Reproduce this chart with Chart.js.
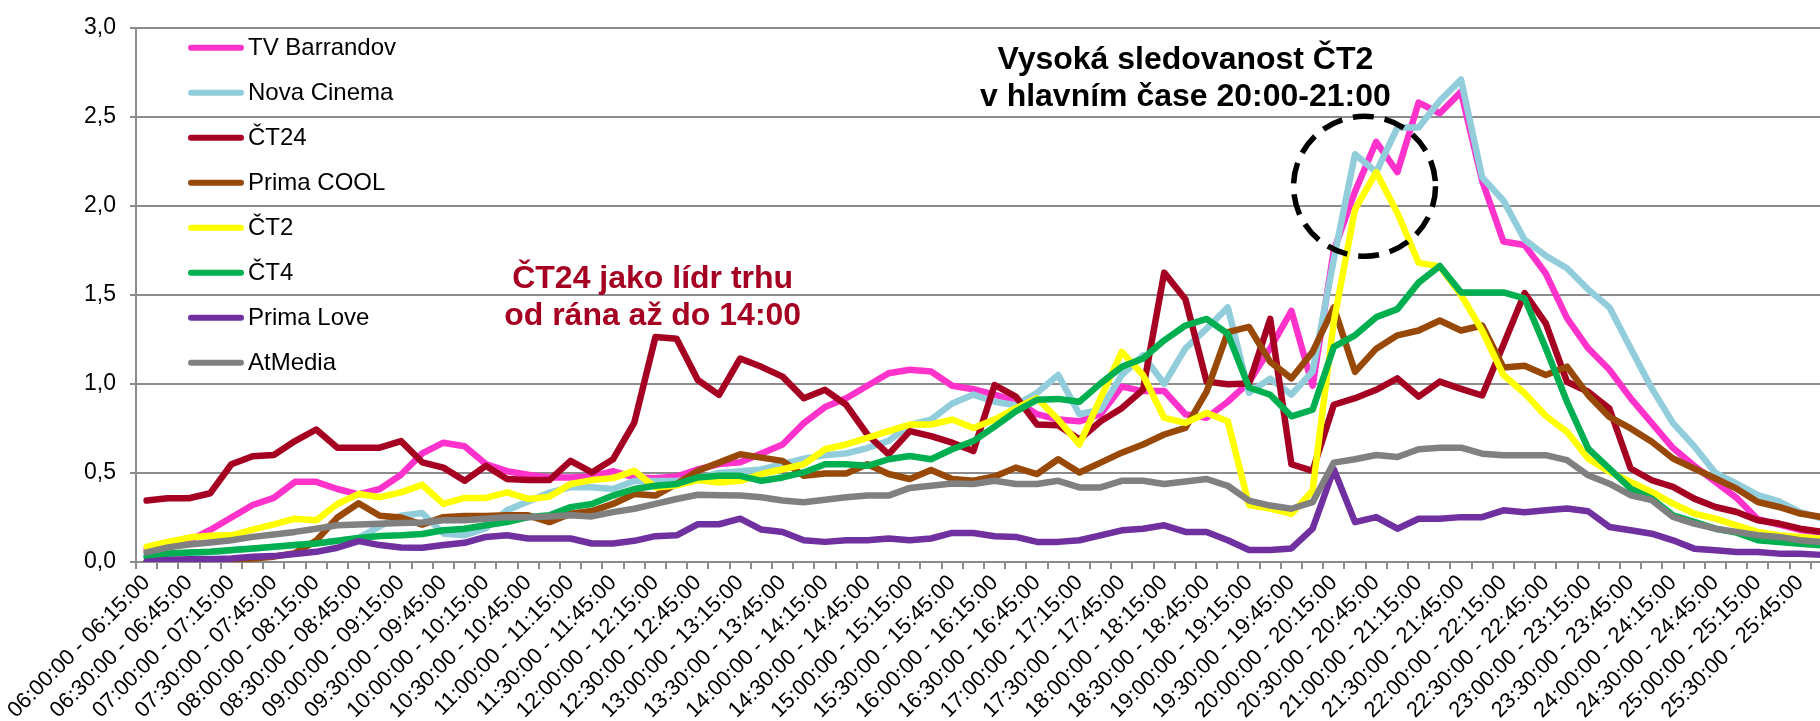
<!DOCTYPE html>
<html>
<head>
<meta charset="utf-8">
<script src="https://cdn.jsdelivr.net/npm/chart.js@4.4.1/dist/chart.umd.min.js"></script>
<style>
  html, body { margin: 0; padding: 0; background: #fff; overflow: hidden; width: 1820px; height: 721px; }
  #wrap { position: absolute; left: 0; top: 0; width: 1832px; height: 721px; }
</style>
</head>
<body>
<div id="wrap"><canvas id="c" width="1832" height="721"></canvas></div>
<script>
const categories = [
"06:00:00 - 06:15:00","06:15:00 - 06:30:00","06:30:00 - 06:45:00","06:45:00 - 07:00:00",
"07:00:00 - 07:15:00","07:15:00 - 07:30:00","07:30:00 - 07:45:00","07:45:00 - 08:00:00",
"08:00:00 - 08:15:00","08:15:00 - 08:30:00","08:30:00 - 08:45:00","08:45:00 - 09:00:00",
"09:00:00 - 09:15:00","09:15:00 - 09:30:00","09:30:00 - 09:45:00","09:45:00 - 10:00:00",
"10:00:00 - 10:15:00","10:15:00 - 10:30:00","10:30:00 - 10:45:00","10:45:00 - 11:00:00",
"11:00:00 - 11:15:00","11:15:00 - 11:30:00","11:30:00 - 11:45:00","11:45:00 - 12:00:00",
"12:00:00 - 12:15:00","12:15:00 - 12:30:00","12:30:00 - 12:45:00","12:45:00 - 13:00:00",
"13:00:00 - 13:15:00","13:15:00 - 13:30:00","13:30:00 - 13:45:00","13:45:00 - 14:00:00",
"14:00:00 - 14:15:00","14:15:00 - 14:30:00","14:30:00 - 14:45:00","14:45:00 - 15:00:00",
"15:00:00 - 15:15:00","15:15:00 - 15:30:00","15:30:00 - 15:45:00","15:45:00 - 16:00:00",
"16:00:00 - 16:15:00","16:15:00 - 16:30:00","16:30:00 - 16:45:00","16:45:00 - 17:00:00",
"17:00:00 - 17:15:00","17:15:00 - 17:30:00","17:30:00 - 17:45:00","17:45:00 - 18:00:00",
"18:00:00 - 18:15:00","18:15:00 - 18:30:00","18:30:00 - 18:45:00","18:45:00 - 19:00:00",
"19:00:00 - 19:15:00","19:15:00 - 19:30:00","19:30:00 - 19:45:00","19:45:00 - 20:00:00",
"20:00:00 - 20:15:00","20:15:00 - 20:30:00","20:30:00 - 20:45:00","20:45:00 - 21:00:00",
"21:00:00 - 21:15:00","21:15:00 - 21:30:00","21:30:00 - 21:45:00","21:45:00 - 22:00:00",
"22:00:00 - 22:15:00","22:15:00 - 22:30:00","22:30:00 - 22:45:00","22:45:00 - 23:00:00",
"23:00:00 - 23:15:00","23:15:00 - 23:30:00","23:30:00 - 23:45:00","23:45:00 - 24:00:00",
"24:00:00 - 24:15:00","24:15:00 - 24:30:00","24:30:00 - 24:45:00","24:45:00 - 25:00:00",
"25:00:00 - 25:15:00","25:15:00 - 25:30:00","25:30:00 - 25:45:00","25:45:00 - 26:00:00"
];

const seriesNames = ["TV Barrandov", "Nova Cinema", "ČT24", "Prima COOL", "ČT2", "ČT4", "Prima Love", "AtMedia"];

const tvBarrandov = [
0.07,0.09,0.12,0.18,0.25,0.32,0.36,0.45,0.45,0.41,
0.38,0.41,0.49,0.61,0.67,0.65,0.55,0.51,0.49,0.475,
0.475,0.48,0.51,0.475,0.47,0.48,0.52,0.55,0.56,0.61,
0.66,0.78,0.87,0.92,0.99,1.06,1.08,1.07,0.99,0.97,
0.94,0.905,0.83,0.80,0.79,0.83,0.985,0.96,0.96,0.83,
0.81,0.90,1.01,1.20,1.41,0.99,1.75,2.08,2.36,2.19,
2.58,2.52,2.64,2.14,1.80,1.78,1.62,1.37,1.20,1.08,
0.92,0.78,0.64,0.54,0.45,0.36,0.24,0.21,0.18,0.165];

const novaCinema = [
0.03,0.045,0.05,0.055,0.065,0.075,0.085,0.095,0.105,0.12,
0.135,0.20,0.26,0.275,0.16,0.15,0.19,0.29,0.34,0.39,
0.42,0.42,0.41,0.455,0.455,0.455,0.47,0.50,0.51,0.52,
0.55,0.58,0.60,0.61,0.64,0.68,0.77,0.80,0.89,0.94,
0.90,0.88,0.95,1.05,0.83,0.855,1.05,1.16,1.00,1.20,
1.31,1.43,0.95,1.03,0.94,1.07,1.70,2.29,2.19,2.44,
2.44,2.59,2.71,2.16,2.03,1.81,1.72,1.65,1.53,1.43,
1.20,0.975,0.78,0.65,0.50,0.44,0.375,0.34,0.28,0.245];

const ct24 = [
0.345,0.358,0.358,0.386,0.549,0.594,0.601,0.679,0.744,0.642,
0.642,0.642,0.679,0.56,0.53,0.456,0.54,0.466,0.46,0.46,
0.568,0.503,0.577,0.781,1.263,1.254,1.022,0.939,1.143,1.096,
1.041,0.92,0.967,0.883,0.716,0.605,0.735,0.707,0.67,0.623,
0.994,0.929,0.772,0.768,0.688,0.79,0.864,0.967,1.625,1.476,
1.013,0.998,1.003,1.365,0.549,0.512,0.883,0.92,0.967,1.031,
0.929,1.013,0.972,0.935,1.22,1.51,1.34,1.012,0.956,0.862,
0.525,0.459,0.422,0.356,0.309,0.281,0.234,0.216,0.187,0.17];

const primaCool = [
0.0,0.0,0.0,0.0,0.01,0.02,0.03,0.05,0.12,0.25,
0.33,0.26,0.25,0.21,0.252,0.258,0.258,0.262,0.262,0.224,
0.271,0.286,0.326,0.382,0.373,0.438,0.512,0.558,0.605,0.586,
0.568,0.484,0.497,0.497,0.549,0.494,0.466,0.516,0.466,0.456,
0.48,0.53,0.494,0.577,0.503,0.558,0.614,0.66,0.716,0.753,
0.957,1.291,1.32,1.124,1.031,1.18,1.43,1.068,1.198,1.273,
1.30,1.356,1.30,1.328,1.092,1.102,1.05,1.097,0.937,0.815,
0.75,0.675,0.581,0.525,0.469,0.412,0.337,0.309,0.272,0.253];

const ct2 = [
0.085,0.113,0.137,0.148,0.15,0.182,0.211,0.243,0.234,0.326,
0.382,0.364,0.391,0.433,0.326,0.36,0.36,0.391,0.354,0.367,
0.438,0.46,0.471,0.512,0.419,0.43,0.46,0.447,0.456,0.494,
0.521,0.549,0.633,0.66,0.697,0.735,0.772,0.772,0.80,0.753,
0.80,0.864,0.92,0.80,0.66,0.92,1.18,1.05,0.809,0.781,
0.837,0.79,0.32,0.30,0.27,0.40,1.35,1.98,2.19,1.96,
1.68,1.66,1.50,1.30,1.05,0.948,0.82,0.731,0.581,0.506,
0.45,0.394,0.328,0.272,0.244,0.206,0.169,0.15,0.141,0.13];

const ct4 = [
0.03,0.048,0.054,0.057,0.067,0.076,0.085,0.095,0.104,0.119,
0.135,0.146,0.15,0.157,0.178,0.187,0.206,0.224,0.252,0.262,
0.308,0.326,0.373,0.41,0.428,0.438,0.475,0.484,0.484,0.456,
0.475,0.503,0.549,0.549,0.54,0.577,0.595,0.577,0.633,0.679,
0.76,0.846,0.911,0.916,0.90,1.003,1.096,1.143,1.245,1.328,
1.365,1.282,0.98,0.939,0.818,0.855,1.208,1.273,1.375,1.42,
1.569,1.662,1.514,1.514,1.514,1.48,1.20,0.90,0.637,0.525,
0.412,0.356,0.262,0.225,0.187,0.165,0.122,0.112,0.103,0.094];

const primaLove = [
0.002,0.011,0.015,0.015,0.02,0.03,0.033,0.045,0.057,0.08,
0.117,0.095,0.082,0.08,0.095,0.108,0.141,0.15,0.132,0.132,
0.132,0.104,0.104,0.119,0.145,0.15,0.212,0.212,0.243,0.182,
0.169,0.122,0.113,0.122,0.122,0.132,0.122,0.132,0.163,0.163,
0.145,0.141,0.113,0.113,0.122,0.15,0.178,0.187,0.206,0.169,
0.169,0.122,0.067,0.067,0.076,0.187,0.521,0.224,0.252,0.187,
0.243,0.243,0.252,0.252,0.29,0.28,0.29,0.30,0.285,0.197,
0.178,0.159,0.122,0.075,0.066,0.056,0.056,0.047,0.047,0.04];

const atMedia = [
0.054,0.082,0.098,0.11,0.122,0.141,0.154,0.169,0.187,0.206,
0.21,0.215,0.219,0.222,0.234,0.234,0.243,0.252,0.252,0.256,
0.262,0.256,0.28,0.299,0.326,0.354,0.378,0.375,0.373,0.364,
0.345,0.336,0.349,0.364,0.373,0.373,0.416,0.428,0.441,0.438,
0.456,0.438,0.438,0.456,0.419,0.419,0.456,0.456,0.438,0.452,
0.466,0.428,0.345,0.317,0.299,0.336,0.558,0.577,0.601,0.59,
0.633,0.642,0.642,0.608,0.60,0.60,0.60,0.572,0.487,0.44,
0.375,0.347,0.253,0.216,0.187,0.169,0.15,0.141,0.122,0.112];

const yTickValues = [0, 0.5, 1.0, 1.5, 2.0, 2.5, 3.0];

const annotationLeader = ["ČT24 jako lídr trhu", "od rána až do 14:00"];
const annotationPrime = ["Vysoká sledovanost ČT2", "v hlavním čase 20:00-21:00"];

/* ---------- styles / positions (kept apart from the data) ---------- */
const seriesColors = ["#FF33CC", "#92CDDC", "#A50021", "#984807", "#FFFF00", "#00B050", "#7030A0", "#808080"];
const seriesData = [tvBarrandov, novaCinema, ct24, primaCool, ct2, ct4, primaLove, atMedia];
const FONT = "'Liberation Sans', Arial, sans-serif";
const GRID = "#8C8C8C";

const leaderPos = { idx: 23.87, vals: [1.541, 1.33], color: "#A50021" };
const primePos = { idx: 49.0, vals: [2.766, 2.56], color: "#000000" };
const circlePos = { idx: 57.45, val: 2.11, rx: 71, ry: 70 };

const overlayPlugin = {
  id: 'overlay',
  afterDatasetsDraw(chart) {
    const ctx = chart.ctx;
    const xs = chart.scales.x, ys = chart.scales.y;
    const area = chart.chartArea;
    ctx.save();
    // legend
    ctx.font = "24px " + FONT;
    ctx.textBaseline = 'middle';
    ctx.textAlign = 'left';
    seriesNames.forEach((name, k) => {
      const y = ys.getPixelForValue(3) + 20 + 45 * k;
      ctx.beginPath();
      ctx.strokeStyle = seriesColors[k];
      ctx.lineWidth = 6;
      ctx.lineCap = 'round';
      ctx.moveTo(area.left + 55, y);
      ctx.lineTo(area.left + 105, y);
      ctx.stroke();
      ctx.fillStyle = '#000';
      ctx.fillText(name, area.left + 112, y + 1);
    });
    // text annotations
    ctx.font = "bold 32px " + FONT;
    ctx.textAlign = 'center';
    ctx.textBaseline = 'alphabetic';
    [[annotationLeader, leaderPos], [annotationPrime, primePos]].forEach(([lines, p]) => {
      ctx.fillStyle = p.color;
      const x = xs.getPixelForValue(p.idx);
      lines.forEach((t, j) => ctx.fillText(t, x, ys.getPixelForValue(p.vals[j])));
    });
    // dashed circle
    ctx.beginPath();
    ctx.setLineDash([21, 11]);
    ctx.lineCap = 'butt';
    ctx.lineWidth = 5.5;
    ctx.strokeStyle = '#000';
    ctx.ellipse(xs.getPixelForValue(circlePos.idx), ys.getPixelForValue(circlePos.val), circlePos.rx, circlePos.ry, 0, 0, Math.PI * 2);
    ctx.stroke();
    ctx.restore();
  }
};

const ctx = document.getElementById('c').getContext('2d');
new Chart(ctx, {
  type: 'line',
  data: {
    labels: categories,
    datasets: seriesNames.map((name, k) => ({
      label: name,
      data: seriesData[k],
      borderColor: seriesColors[k],
      backgroundColor: seriesColors[k],
      borderWidth: 6.5,
      pointRadius: 0,
      pointHoverRadius: 0,
      tension: 0,
      fill: false,
      borderJoinStyle: 'round',
      borderCapStyle: 'round',
      order: seriesNames.length - k
    }))
  },
  options: {
    responsive: false,
    animation: false,
    devicePixelRatio: 1,
    layout: { padding: { top: 22, left: 0, right: 0, bottom: 0 } },
    plugins: { legend: { display: false }, tooltip: { enabled: false } },
    scales: {
      x: {
        type: 'category',
        offset: true,
        grid: { display: true, drawOnChartArea: false, drawTicks: true, tickLength: 7, offset: true, color: GRID, lineWidth: 2 },
        border: { display: true, color: GRID, width: 2 },
        ticks: {
          autoSkip: false,
          maxRotation: 45,
          minRotation: 45,
          padding: 1,
          color: '#000',
          font: { family: FONT, size: 22 },
          callback: (v, i) => (i % 2 === 0 ? categories[i] : '')
        },
        afterFit(s) { s.height = 159; s.paddingLeft = 0; s.paddingRight = 0; }
      },
      y: {
        min: 0,
        max: 3,
        afterBuildTicks(s) { s.ticks = yTickValues.map(v => ({ value: v })); },
        grid: { color: GRID, lineWidth: 2, tickLength: 6, drawTicks: true },
        border: { display: true, color: GRID, width: 2 },
        ticks: {
          padding: 14,
          color: '#000',
          font: { family: FONT, size: 23 },
          callback: v => v.toFixed(1).replace('.', ',')
        },
        afterFit(s) { s.width = 136; }
      }
    }
  },
  plugins: [overlayPlugin]
});
</script>
</body>
</html>
